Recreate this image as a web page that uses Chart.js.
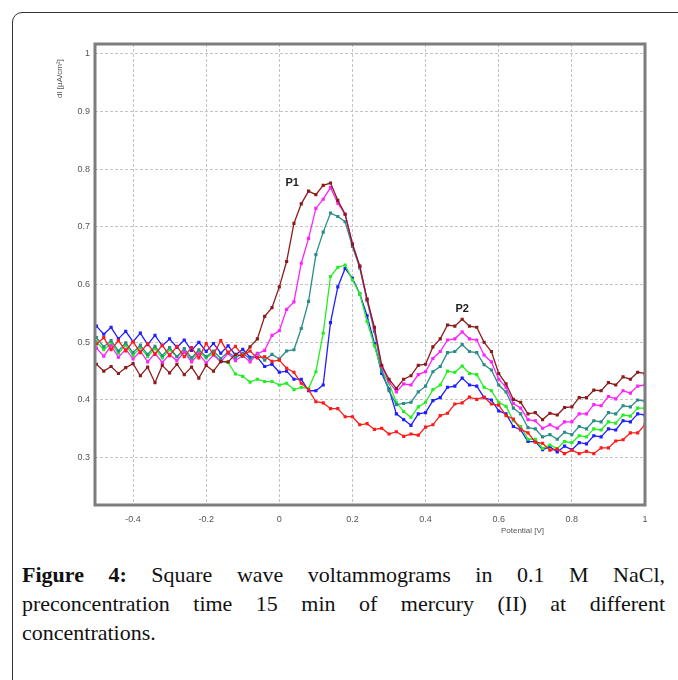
<!DOCTYPE html>
<html lang="en">
<head>
<meta charset="UTF-8">
<title>Figure 4 - Square wave voltammograms</title>
<style>
    * { margin: 0; padding: 0; box-sizing: border-box; }
    body { width: 678px; height: 680px; background: #fff; overflow: hidden; position: relative; font-family: Arial, sans-serif; }
    .frame { position: absolute; left: 12px; top: 12px; width: 720px; height: 720px; border: 1.5px solid #333; border-radius: 10px; }
    .chart-box { position: absolute; left: 40px; top: 30px; width: 630px; height: 510px; }
    .caption { position: absolute; left: 22px; top: 560px; width: 643px; font-family: "Liberation Serif", "Times New Roman", serif; font-size: 22px; line-height: 29px; color: #111; }
    .caption .j { text-align: justify; text-align-last: justify; }
    .caption b { font-weight: bold; }
</style>
</head>
<body>
<div class="frame"></div>
<div class="chart-box"><canvas id="swv"></canvas></div>
<div class="caption">
    <div class="j"><b>Figure 4:</b> Square wave voltammograms in 0.1 M NaCl,</div>
    <div class="j">preconcentration time 15 min of mercury (II) at different</div>
    <div>concentrations.</div>
</div>

<script src="https://cdn.jsdelivr.net/npm/chart.js"></script>
<script>
// potential axis (V), one reading every 20 mV
const potential = [-0.50,-0.48,-0.46,-0.44,-0.42,-0.40,-0.38,-0.36,-0.34,-0.32,-0.30,-0.28,-0.26,-0.24,-0.22,-0.20,-0.18,-0.16,-0.14,-0.12,
    -0.10,-0.08,-0.06,-0.04,-0.02,0.00,0.02,0.04,0.06,0.08,0.10,0.12,0.14,0.16,0.18,0.20,0.22,0.24,0.26,0.28,
    0.30,0.32,0.34,0.36,0.38,0.40,0.42,0.44,0.46,0.48,0.50,0.52,0.54,0.56,0.58,0.60,0.62,0.64,0.66,0.68,
    0.70,0.72,0.74,0.76,0.78,0.80,0.82,0.84,0.86,0.88,0.90,0.92,0.94,0.96,0.98,1.00];

// dI readings, one list per concentration
const brown = [0.462,0.450,0.458,0.446,0.456,0.463,0.442,0.457,0.430,0.460,0.447,0.462,0.444,0.457,0.438,0.460,0.450,0.467,0.466,0.479,
    0.476,0.492,0.506,0.545,0.560,0.596,0.640,0.706,0.740,0.762,0.756,0.772,0.776,0.746,0.722,0.670,0.632,0.575,0.526,0.460,
    0.436,0.420,0.436,0.442,0.460,0.462,0.492,0.506,0.530,0.528,0.540,0.528,0.526,0.500,0.484,0.446,0.428,0.401,0.396,0.376,
    0.378,0.366,0.377,0.374,0.387,0.388,0.404,0.404,0.417,0.416,0.430,0.426,0.440,0.436,0.448,0.446];

const magenta = [0.490,0.476,0.494,0.474,0.488,0.471,0.485,0.466,0.481,0.465,0.479,0.468,0.483,0.466,0.480,0.464,0.478,0.466,0.481,0.468,
    0.477,0.466,0.480,0.486,0.512,0.520,0.557,0.570,0.637,0.680,0.732,0.748,0.768,0.741,0.722,0.671,0.632,0.574,0.524,0.458,
    0.432,0.414,0.428,0.426,0.444,0.449,0.472,0.484,0.504,0.506,0.518,0.506,0.504,0.478,0.466,0.436,0.422,0.394,0.386,0.366,
    0.364,0.351,0.357,0.351,0.362,0.362,0.376,0.376,0.392,0.390,0.406,0.402,0.416,0.412,0.424,0.426];

const teal = [0.508,0.492,0.503,0.485,0.499,0.482,0.495,0.479,0.493,0.477,0.491,0.475,0.489,0.473,0.487,0.475,0.485,0.472,0.483,0.473,
    0.481,0.471,0.481,0.469,0.479,0.471,0.485,0.487,0.524,0.571,0.652,0.691,0.724,0.718,0.709,0.666,0.629,0.572,0.519,0.451,
    0.416,0.392,0.394,0.396,0.414,0.424,0.449,0.458,0.482,0.484,0.496,0.484,0.482,0.461,0.452,0.426,0.414,0.386,0.376,0.352,
    0.350,0.336,0.340,0.332,0.344,0.340,0.354,0.350,0.364,0.362,0.378,0.376,0.390,0.388,0.400,0.398];

const green = [0.501,0.487,0.498,0.481,0.495,0.477,0.491,0.475,0.489,0.473,0.487,0.475,0.485,0.471,0.483,0.473,0.481,0.467,0.465,0.445,
    0.441,0.431,0.436,0.432,0.432,0.426,0.429,0.418,0.422,0.420,0.449,0.516,0.614,0.630,0.634,0.608,0.584,0.536,0.494,0.451,
    0.429,0.396,0.380,0.370,0.388,0.396,0.418,0.426,0.450,0.448,0.459,0.446,0.444,0.422,0.416,0.396,0.389,0.364,0.354,0.332,
    0.332,0.316,0.322,0.316,0.328,0.326,0.338,0.336,0.350,0.348,0.362,0.360,0.374,0.372,0.386,0.386];

const blue = [0.528,0.514,0.526,0.506,0.519,0.501,0.516,0.496,0.512,0.494,0.506,0.491,0.504,0.486,0.500,0.484,0.498,0.481,0.494,0.478,
    0.488,0.474,0.474,0.458,0.462,0.448,0.450,0.436,0.436,0.416,0.416,0.426,0.534,0.596,0.628,0.611,0.584,0.546,0.498,0.446,
    0.419,0.376,0.366,0.356,0.376,0.378,0.399,0.404,0.422,0.424,0.438,0.426,0.424,0.404,0.400,0.381,0.376,0.354,0.348,0.328,
    0.328,0.314,0.319,0.310,0.320,0.314,0.326,0.324,0.338,0.336,0.350,0.348,0.364,0.362,0.376,0.374];

const red = [0.497,0.508,0.487,0.503,0.485,0.501,0.482,0.498,0.479,0.495,0.477,0.493,0.475,0.491,0.473,0.498,0.479,0.503,0.482,0.493,
    0.477,0.485,0.473,0.475,0.467,0.469,0.455,0.448,0.429,0.418,0.397,0.395,0.385,0.385,0.371,0.371,0.357,0.359,0.349,0.351,
    0.341,0.345,0.337,0.341,0.339,0.353,0.357,0.373,0.377,0.393,0.395,0.405,0.401,0.405,0.393,0.391,0.373,0.367,0.349,0.343,
    0.327,0.325,0.313,0.315,0.307,0.313,0.307,0.311,0.307,0.317,0.317,0.329,0.331,0.343,0.343,0.357];

const xTicks = [-0.4, -0.2, 0, 0.2, 0.4, 0.6, 0.8, 1];
const yTicks = [0.3, 0.4, 0.5, 0.6, 0.7, 0.8, 0.9, 1];

function pts(arr) {
    return arr.map((v, i) => ({ x: potential[i], y: v }));
}

function series(values, color) {
    return {
        data: pts(values),
        showLine: true,
        borderColor: color,
        backgroundColor: color,
        borderWidth: 1.3,
        pointRadius: 1.3,
        pointStyle: 'rect',
        tension: 0
    };
}

// frame round the plot, peak labels and axis titles
const decor = {
    id: 'decor',
    afterDatasetsDraw(chart) {
        const { ctx, chartArea: a, scales: { x, y } } = chart;
        ctx.save();
        ctx.strokeStyle = '#7d7d7d';
        ctx.lineWidth = 3;
        ctx.strokeRect(a.left, a.top, a.right - a.left, a.bottom - a.top);

        ctx.fillStyle = '#222';
        ctx.font = 'bold 11px Arial';
        ctx.textAlign = 'center';
        ctx.textBaseline = 'middle';
        ctx.fillText('P1', x.getPixelForValue(0.035), y.getPixelForValue(0.777));
        ctx.fillText('P2', x.getPixelForValue(0.5), y.getPixelForValue(0.557));

        ctx.fillStyle = '#555';
        ctx.font = '8px Arial';
        ctx.fillText('Potential [V]', x.getPixelForValue(0.665), a.bottom + 26);

        ctx.translate(a.left - 35, y.getPixelForValue(0.957));
        ctx.rotate(-Math.PI / 2);
        ctx.fillText('dI [\u00b5A/cm\u00b2]', 0, 0);
        ctx.restore();
    }
};

new Chart(document.getElementById('swv'), {
    type: 'scatter',
    data: {
        datasets: [
            series(red, '#ff1a1a'),
            series(brown, '#8b1c1c'),
            series(magenta, '#ff22ff'),
            series(teal, '#2b8c88'),
            series(green, '#22ee22'),
            series(blue, '#1f1fff')
        ]
    },
    options: {
        responsive: true,
        maintainAspectRatio: false,
        animation: false,
        layout: { padding: { top: 14, right: 25, left: 0, bottom: 0 } },
        plugins: { legend: { display: false }, tooltip: { enabled: false } },
        scales: {
            x: {
                type: 'linear',
                min: -0.504,
                max: 1.0,
                afterBuildTicks: s => { s.ticks = xTicks.map(v => ({ value: v })); },
                afterFit: s => { s.height = 35; },
                grid: { color: '#c4c4c4', drawTicks: false },
                border: { display: false, dash: [3, 2] },
                ticks: {
                    color: '#555',
                    font: { size: 9, family: 'Arial' },
                    padding: 9,
                    maxRotation: 0,
                    callback: v => String(+v.toFixed(1))
                }
            },
            y: {
                min: 0.218,
                max: 1.017,
                afterBuildTicks: s => { s.ticks = yTicks.map(v => ({ value: v })); },
                afterFit: s => { s.width = 55; },
                grid: { color: '#c4c4c4', drawTicks: false },
                border: { display: false, dash: [3, 2] },
                ticks: {
                    color: '#555',
                    font: { size: 9, family: 'Arial' },
                    padding: 5,
                    callback: v => String(+v.toFixed(1))
                }
            }
        }
    },
    plugins: [decor]
});
</script>
</body>
</html>
